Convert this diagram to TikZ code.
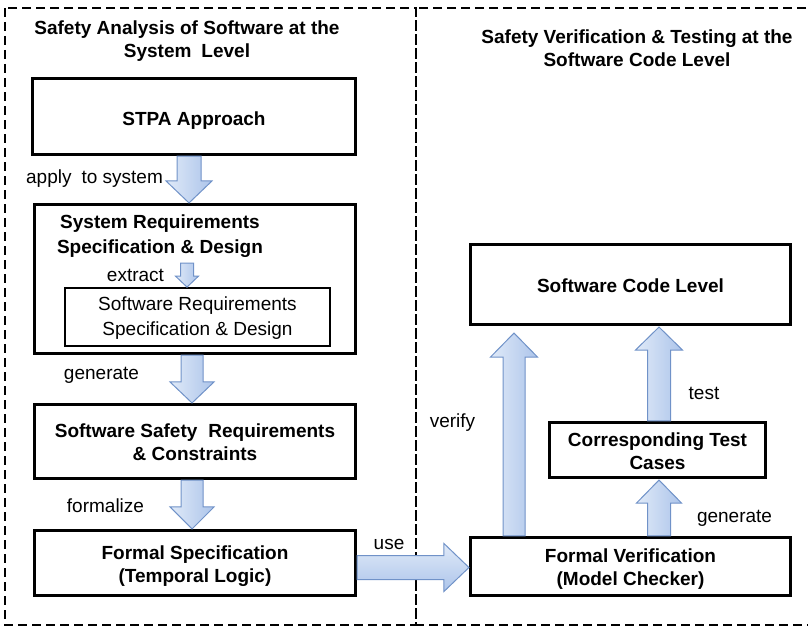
\documentclass[tikz,border=0pt]{standalone}
\usepackage{fontspec}
\setmainfont{Liberation Sans}
\usetikzlibrary{calc}

\definecolor{arrowedge}{RGB}{112,146,200}
\definecolor{arrowlight}{RGB}{224,234,248}
\definecolor{arrowdark}{RGB}{172,196,234}

\tikzset{
  box/.style={draw, line width=2.6pt, fill=white, inner sep=0pt},
  innerbox/.style={draw, line width=1.8pt, fill=white, inner sep=0pt},
  frame/.style={line width=1.2pt, dash pattern=on 9pt off 5pt},
  bold/.style={font=\fontsize{19}{23}\selectfont\bfseries, align=center, inner sep=0pt},
  plain/.style={font=\fontsize{19}{24}\selectfont, align=center, inner sep=0pt},
  barrow/.style={draw=arrowedge, line width=1pt, line join=miter},
  vshade/.style={left color=arrowlight, right color=arrowdark},
  hshade/.style={top color=arrowlight, bottom color=arrowdark},
}

% block arrow: #1 style, #2 start, #3 tip, #4 half shaft, #5 half head, #6 head length
\newcommand{\blockarrow}[6]{%
  \coordinate (ba-neck) at ($(#3)!#6pt!(#2)$);
  \path[barrow,#1]
    ($(#2)!#4pt!90:(#3)$) -- ($(ba-neck)!#4pt!90:(#3)$) --
    ($(ba-neck)!#5pt!90:(#3)$) -- (#3) --
    ($(ba-neck)!#5pt!-90:(#3)$) -- ($(ba-neck)!#4pt!-90:(#3)$) --
    ($(#2)!#4pt!-90:(#3)$) -- cycle;
}

\begin{document}
\begin{tikzpicture}[x=1pt,y=-1pt]
  \useasboundingbox (0,0) rectangle (808,626);
  \clip (0,0) rectangle (808,626);

  % two dashed regions
  \draw[frame] (5,8) rectangle (416,625);
  \draw[frame] (416,8) rectangle (820,625);

  % region titles
  \node[bold] (tleft) at (187,41) {Safety Analysis of Software at the\\System\hspace{0.25em} Level};
  \node[bold] (tright) at (637,48.5) {Safety Verification \& Testing at the\\Software Code Level};

  % left column boxes
  \node[box, minimum width=323.5pt, minimum height=76.5pt] (stpa) at (194,116.5) {};
  \node[bold] at ($(stpa)+(0,4)$) {STPA Approach};

  \node[box, minimum width=321.5pt, minimum height=149.5pt] (sysreq) at (195,279) {};
  \node[bold, font=\fontsize{19}{25}\selectfont\bfseries] (sysreqtext) at (160,236) {System Requirements\\Specification \& Design};

  \node[innerbox, minimum width=265pt, minimum height=58pt] (swreq) at (197.5,317) {};
  \node[plain, font=\fontsize{19}{25}\selectfont] at ($(swreq)+(0,1)$) {Software Requirements\\Specification \& Design};

  \node[box, minimum width=321.5pt, minimum height=74.5pt] (swsafe) at (195,441.5) {};
  \node[bold] at ($(swsafe)+(0,1)$) {Software Safety\hspace{0.3em} Requirements\\\& Constraints};

  \node[box, minimum width=321.5pt, minimum height=65.5pt] (formal) at (195,563) {};
  \node[bold] at ($(formal)+(0,3.5)$) {Formal Specification\\(Temporal Logic)};

  % right column boxes
  \node[box, minimum width=320.5pt, minimum height=80.5pt] (code) at (630.5,284.5) {};
  \node[bold] at ($(code)+(0,1)$) {Software Code Level};

  \node[box, minimum width=216.5pt, minimum height=55.5pt] (tests) at (657.5,450) {};
  \node[bold] at ($(tests)+(0,1.5)$) {Corresponding Test\\Cases};

  \node[box, minimum width=320.5pt, minimum height=58.5pt] (verif) at (630.5,566.5) {};
  \node[bold] at ($(verif)+(0,3)$) {Formal Verification\\(Model Checker)};

  % arrow end points
  \coordinate (applyA) at ($(stpa.south)+(-5,0)$);
  \coordinate (applyB) at ($(sysreq.north)+(-6,0)$);
  \coordinate (extractA) at (187,263);
  \coordinate (extractB) at ($(swreq.north)+(-10.5,0)$);
  \coordinate (genA) at ($(sysreq.south)+(-3,0)$);
  \coordinate (genB) at ($(swsafe.north)+(-3,0)$);
  \coordinate (formA) at ($(swsafe.south)+(-3,0)$);
  \coordinate (formB) at ($(formal.north)+(-3,0)$);
  \coordinate (useA) at ($(formal.east)+(0,4.5)$);
  \coordinate (useB) at ($(verif.west)+(0,1)$);
  \coordinate (verA) at ($(verif.north)+(-116.5,0)$);
  \coordinate (verB) at ($(code.south)+(-116.5,7)$);
  \coordinate (testA) at ($(tests.north)+(1.5,0)$);
  \coordinate (testB) at ($(code.south)+(28.5,1)$);
  \coordinate (gen2A) at ($(verif.north)+(28.5,0)$);
  \coordinate (gen2B) at ($(tests.south)+(1.5,1)$);

  % block arrows
  \blockarrow{vshade}{applyA}{applyB}{12}{23}{22}
  \blockarrow{vshade}{extractA}{extractB}{6.5}{11.5}{11}
  \blockarrow{vshade}{genA}{genB}{11}{22}{21}
  \blockarrow{vshade}{formA}{formB}{11}{22}{22}
  \blockarrow{hshade}{useA}{useB}{12}{24}{25}
  \blockarrow{vshade}{verA}{verB}{11}{23.5}{24}
  \blockarrow{vshade}{testA}{testB}{11.5}{23.5}{23}
  \blockarrow{vshade}{gen2A}{gen2B}{11.5}{22.5}{23}

  % arrow labels
  \node[plain] (lapply) at (94.5,179) {apply\hspace{0.25em} to system};
  \node[plain] (lextract) at (135.5,275) {extract};
  \node[plain] (lgen) at (101.5,375) {generate};
  \node[plain] (lform) at (105.5,506) {formalize};
  \node[plain] (luse) at (389,544) {use};
  \node[plain] (lverify) at (452.5,423) {verify};
  \node[plain] (ltest) at (704,393) {test};
  \node[plain] (lgen2) at (734.5,518) {generate};
\end{tikzpicture}
\end{document}
